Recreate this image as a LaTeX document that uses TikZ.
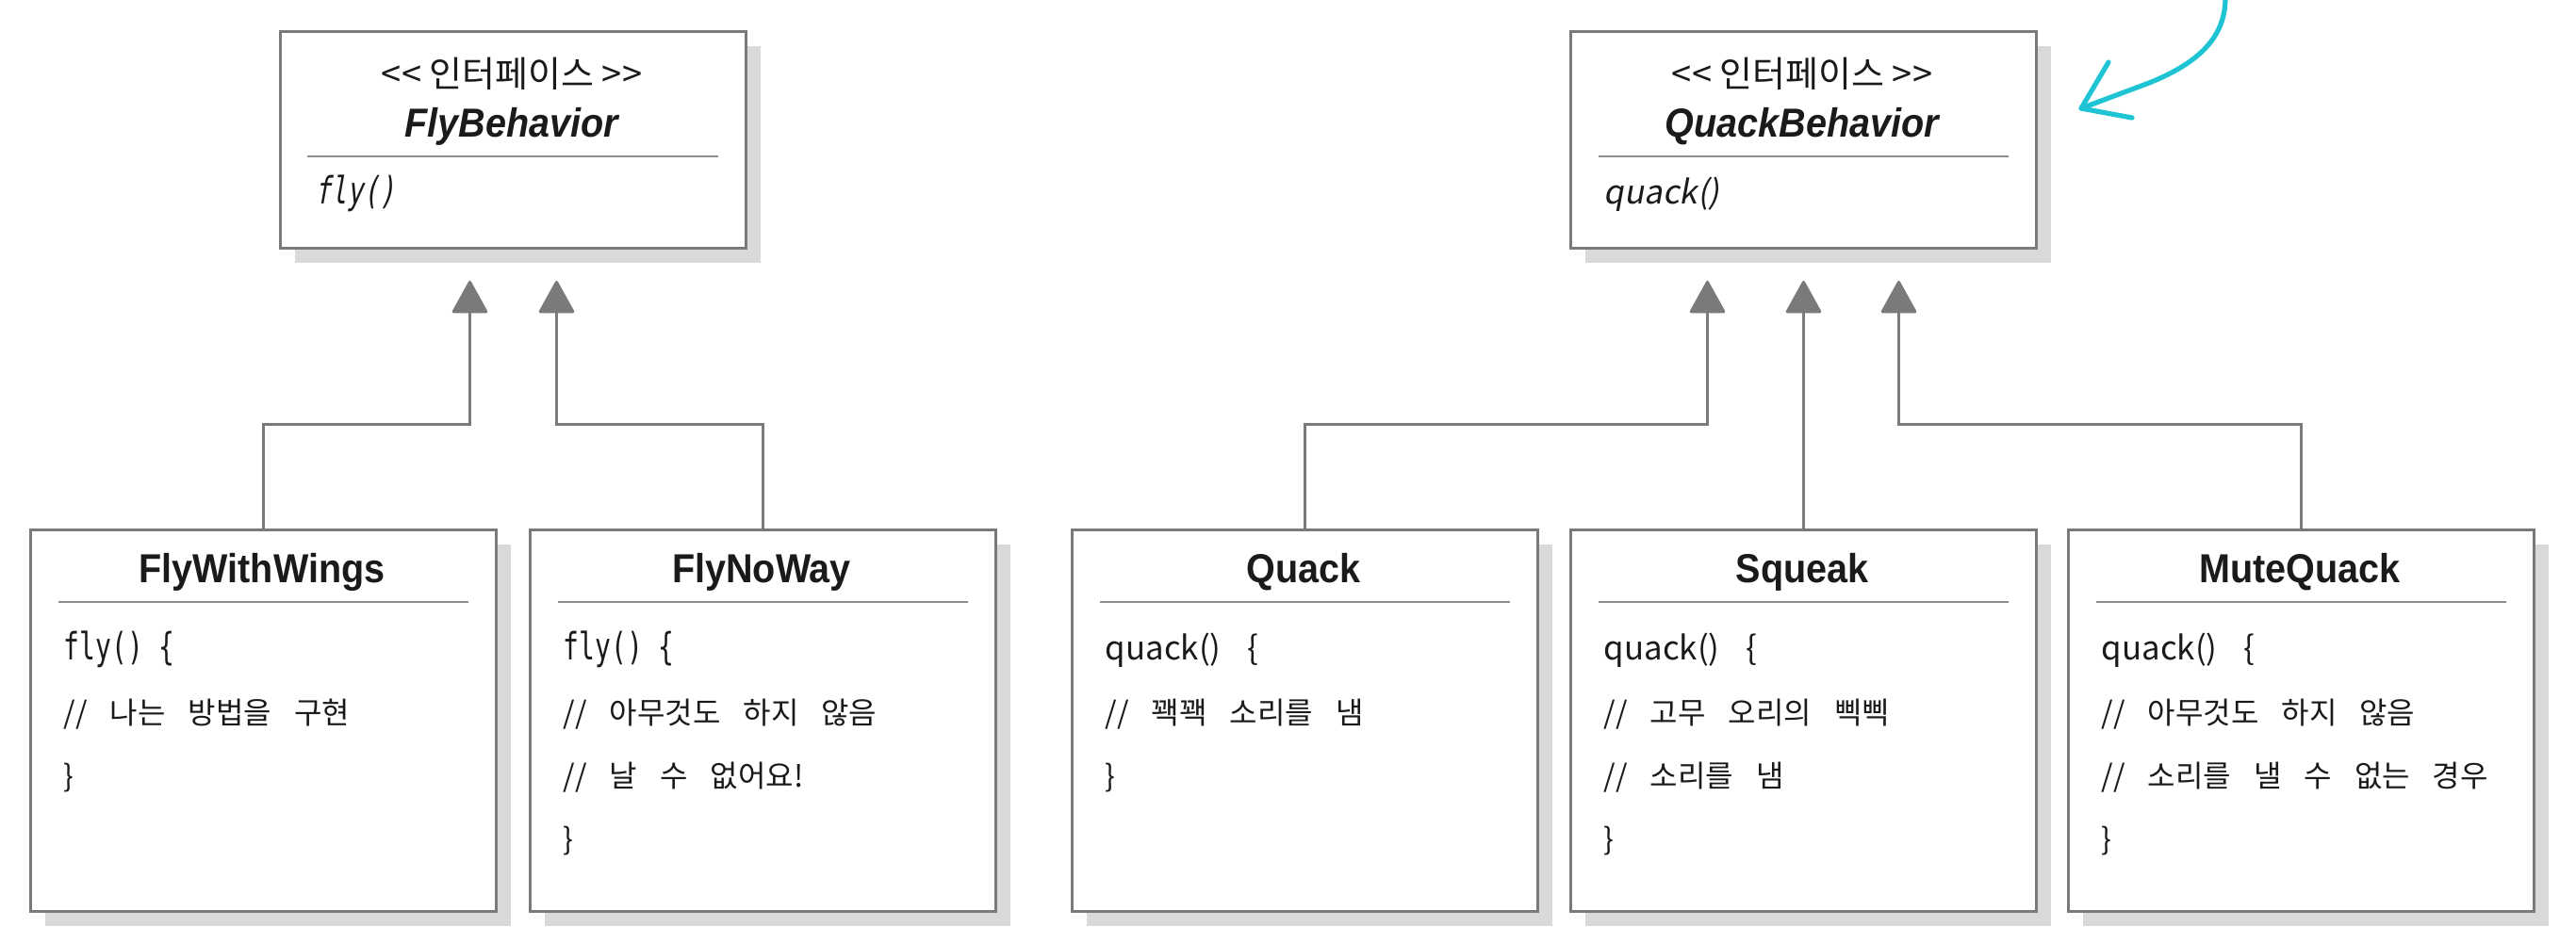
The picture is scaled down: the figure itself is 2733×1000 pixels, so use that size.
\documentclass[tikz,border=0pt]{standalone}
\usepackage{fontspec}
\setmainfont{Liberation Sans}
\newfontfamily\ttlfont[FakeStretch=0.92]{Liberation Sans}
\newfontfamily\krfont{Noto Sans CJK KR}
\newfontfamily\kritfont[FakeSlant=0.18]{Noto Sans CJK KR}
\newfontfamily\codefont[FakeStretch=0.7]{DejaVu Sans Mono}
\newfontfamily\codeitfont[FakeStretch=0.7,FakeSlant=0.18]{DejaVu Sans Mono}
\newcommand\cmtspaces{\spaceskip=6pt\relax}
\newcommand\qspaces{\spaceskip=7pt\relax}
\newcommand\cmtfont{\krfont\fontsize{8pt}{9pt}\selectfont\cmtspaces}
\newcommand\qcodefont{\krfont\fontsize{8.7pt}{10pt}\selectfont\qspaces}
\usetikzlibrary{arrows.meta,shadows}
\definecolor{boxgray}{HTML}{7A7A7A}
\definecolor{shadowgray}{HTML}{D9D9D9}
\definecolor{sepgray}{HTML}{8E8E8E}
\definecolor{annot}{HTML}{1FC4D4}
\definecolor{ink}{HTML}{1A1A1A}
\tikzset{
  umlbox/.style={draw=boxgray, line width=0.75pt, fill=white, rectangle, inner sep=0pt,
    anchor=north west, minimum width=123.5pt,
    general shadow={fill=shadowgray, draw=none, shadow xshift=3.75pt, shadow yshift=-3.75pt}},
  topbox/.style={umlbox, minimum height=57.5pt},
  implbox/.style={umlbox, minimum height=101.25pt},
  ttl/.style={font=\ttlfont\fontsize{10.75pt}{12pt}\selectfont\bfseries, text=ink, inner sep=0pt, anchor=base},
  ittl/.style={font=\ttlfont\fontsize{10.75pt}{12pt}\selectfont\bfseries\itshape, text=ink, inner sep=0pt, anchor=base},
  stereo/.style={font=\krfont\fontsize{9.5pt}{11pt}\selectfont, text=ink, inner sep=0pt, anchor=base},
  code/.style={font=\codefont\fontsize{10pt}{11pt}\selectfont, text=ink, inner sep=0pt, anchor=base west},
  icode/.style={font=\codeitfont\fontsize{10pt}{11pt}\selectfont, text=ink, inner sep=0pt, anchor=base west},
  cmt/.style={font=\cmtfont, text=ink, inner sep=0pt, anchor=base west},
  qcode/.style={font=\qcodefont, text=ink, inner sep=0pt, anchor=base west},
  iqcode/.style={font=\kritfont\fontsize{8.7pt}{10pt}\selectfont, text=ink, inner sep=0pt, anchor=base west},
  sepline/.style={draw=sepgray, line width=0.4pt},
  conn/.style={draw=boxgray, line width=0.75pt, -{Triangle[width=9.75pt,length=9pt,round]}},
  annotation/.style={draw=annot, line width=1.3pt, line cap=round, line join=round}
}
\begin{document}
\begin{tikzpicture}[x=0.25pt,y=-0.25pt]
\useasboundingbox (0,0) rectangle (2733,1000);

% ---------- interface boxes ----------
\node[topbox] (fb) at (296,32) {};
\node[stereo] (fbS) at ([shift={(247,60)}]fb.north west) {<< 인터페이스 >>};
\node[ittl] (fbT) at ([shift={(247,113)}]fb.north west) {FlyBehavior};
\draw[sepline] ([shift={(30,134)}]fb.north west) -- ([shift={(-31,134)}]fb.north east);
\node[icode] (fbM) at ([shift={(38,184)}]fb.north west) {fly()};

\node[topbox] (qb) at (1665,32) {};
\node[stereo] (qbS) at ([shift={(247,60)}]qb.north west) {<< 인터페이스 >>};
\node[ittl] (qbT) at ([shift={(247,113)}]qb.north west) {QuackBehavior};
\draw[sepline] ([shift={(31,134)}]qb.north west) -- ([shift={(-31,134)}]qb.north east);
\node[iqcode] (qbM) at ([shift={(36,184)}]qb.north west) {quack()};

% ---------- implementation boxes ----------
\node[implbox] (fww) at (31,561) {};
\node[ttl] (fwwT) at ([shift={(247,57)}]fww.north west) {FlyWithWings};
\draw[sepline] ([shift={(31,78)}]fww.north west) -- ([shift={(-31,78)}]fww.north east);
\node[code] (fww1) at ([shift={(36,139)}]fww.north west) {fly() \{};
\node[cmt] (fww2) at ([shift={(36,207)}]fww.north west) {// 나는 방법을 구현};
\node[cmt] (fww3) at ([shift={(36,274)}]fww.north west) {\}};

\node[implbox] (fnw) at (561,561) {};
\node[ttl] (fnwT) at ([shift={(247,57)}]fnw.north west) {FlyNoWay};
\draw[sepline] ([shift={(31,78)}]fnw.north west) -- ([shift={(-31,78)}]fnw.north east);
\node[code] (fnw1) at ([shift={(36,139)}]fnw.north west) {fly() \{};
\node[cmt] (fnw2) at ([shift={(36,207)}]fnw.north west) {// 아무것도 하지 않음};
\node[cmt] (fnw3) at ([shift={(36,274)}]fnw.north west) {// 날 수 없어요!};
\node[cmt] (fnw4) at ([shift={(36,341)}]fnw.north west) {\}};

\node[implbox] (qk) at (1136,561) {};
\node[ttl] (qkT) at ([shift={(247,57)}]qk.north west) {Quack};
\draw[sepline] ([shift={(31,78)}]qk.north west) -- ([shift={(-31,78)}]qk.north east);
\node[qcode] (qk1) at ([shift={(36,139)}]qk.north west) {quack() \{};
\node[cmt] (qk2) at ([shift={(36,207)}]qk.north west) {// 꽥꽥 소리를 냄};
\node[cmt] (qk3) at ([shift={(36,274)}]qk.north west) {\}};

\node[implbox] (sq) at (1665,561) {};
\node[ttl] (sqT) at ([shift={(247,57)}]sq.north west) {Squeak};
\draw[sepline] ([shift={(31,78)}]sq.north west) -- ([shift={(-31,78)}]sq.north east);
\node[qcode] (sq1) at ([shift={(36,139)}]sq.north west) {quack() \{};
\node[cmt] (sq2) at ([shift={(36,207)}]sq.north west) {// 고무 오리의 삑삑};
\node[cmt] (sq3) at ([shift={(36,274)}]sq.north west) {// 소리를 냄};
\node[cmt] (sq4) at ([shift={(36,341)}]sq.north west) {\}};

\node[implbox] (mq) at (2193,561) {};
\node[ttl] (mqT) at ([shift={(247,57)}]mq.north west) {MuteQuack};
\draw[sepline] ([shift={(31,78)}]mq.north west) -- ([shift={(-31,78)}]mq.north east);
\node[qcode] (mq1) at ([shift={(36,139)}]mq.north west) {quack() \{};
\node[cmt] (mq2) at ([shift={(36,207)}]mq.north west) {// 아무것도 하지 않음};
\node[cmt] (mq3) at ([shift={(36,274)}]mq.north west) {// 소리를 낼 수 없는 경우};
\node[cmt] (mq4) at ([shift={(36,341)}]mq.north west) {\}};

% ---------- generalisation connectors ----------
\coordinate (fbL) at ([shift={(-46,33)}]fb.south);
\coordinate (fbR) at ([shift={(46,33)}]fb.south);
\coordinate (qbL) at ([shift={(-102,33)}]qb.south);
\coordinate (qbM) at ([shift={(0,33)}]qb.south);
\coordinate (qbR) at ([shift={(101,33)}]qb.south);

\draw[conn] (fww.north) -- ++(0,-111) -| (fbL);
\draw[conn] (fnw.north) -- ++(0,-111) -| (fbR);
\draw[conn] (qk.north) -- ++(0,-111) -| (qbL);
\draw[conn] (sq.north) -- (qbM);
\draw[conn] (mq.north) -- ++(0,-111) -| (qbR);

% ---------- annotation arrow ----------
\coordinate (annS) at (2361,-6);
\coordinate (annT) at (2208,115);
\coordinate (annA) at (2237,66);
\coordinate (annB) at (2262,125);
\draw[annotation] (annS) .. controls (2362,30) and (2345,62) .. (2280,88) -- (annT);
\draw[annotation] (annA) -- (annT) -- (annB);
\end{tikzpicture}
\end{document}
